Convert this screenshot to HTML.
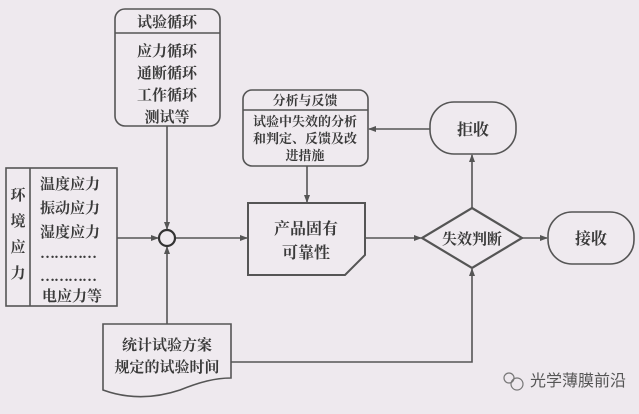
<!DOCTYPE html>
<html><head><meta charset="utf-8"><style>
html,body{margin:0;padding:0;background:#eee9ee}
svg{display:block}
text{font-family:"Liberation Serif","Noto Serif CJK SC","Noto Sans CJK SC",serif;fill:#3a3a3a;font-weight:bold}
</style></head><body>
<svg width="639" height="414" viewBox="0 0 639 414" xmlns="http://www.w3.org/2000/svg">
<defs><marker id="a" markerWidth="8" markerHeight="8" refX="7" refY="4" orient="auto" markerUnits="userSpaceOnUse"><path d="M0,1 L8,4 L0,7 Z" fill="#555"/></marker></defs>
<rect width="639" height="414" fill="#eee9ee"/>
<g stroke="#555" stroke-width="1.6" fill="#efeaef">
<rect x="115" y="9" width="105" height="117" rx="10"/>
<line x1="115" y1="33" x2="220" y2="33"/>
<rect x="6" y="168" width="111" height="138"/>
<line x1="30" y1="168" x2="30" y2="306"/>
<rect x="243" y="90" width="125" height="76" rx="9"/>
<line x1="243" y1="110" x2="368" y2="110"/>
<path d="M248,203 H365 V255 L345,275 H248 Z" stroke-width="2"/>
<rect x="430" y="102" width="86" height="52" rx="24"/>
<rect x="548" y="212" width="86" height="52" rx="24"/>
<path d="M472,208 L522,238 L472,268 L422,238 Z" stroke-width="2.2"/>
<path d="M103,324 H231 V378 C215,378 200,382 180,390 C150,400 125,398 103,390 Z"/>
</g>
<g stroke="#555" stroke-width="1.6" fill="none">
<line x1="167" y1="126" x2="167" y2="229" marker-end="url(#a)"/>
<line x1="117" y1="238" x2="158" y2="238" marker-end="url(#a)"/>
<line x1="167" y1="324" x2="167" y2="247" marker-end="url(#a)"/>
<line x1="176" y1="238" x2="247" y2="238" marker-end="url(#a)"/>
<line x1="307" y1="166" x2="307" y2="202" marker-end="url(#a)"/>
<line x1="365" y1="238" x2="421" y2="238" marker-end="url(#a)"/>
<line x1="522" y1="238" x2="547" y2="238" marker-end="url(#a)"/>
<line x1="472" y1="208" x2="472" y2="155" marker-end="url(#a)"/>
<line x1="430" y1="129" x2="369" y2="129" marker-end="url(#a)"/>
<polyline points="231,362 472,362 472,269" marker-end="url(#a)"/>
</g>
<circle cx="167" cy="238" r="8" fill="#efeaef" stroke="#333" stroke-width="2.2"/>
<g font-size="15" text-anchor="middle">
<text x="167" y="27">试验循环</text>
<text x="167" y="56">应力循环</text>
<text x="167" y="78">通断循环</text>
<text x="167" y="100">工作循环</text>
<text x="167" y="122">测试等</text>
</g>
<g font-size="15">
<text x="18" y="200" text-anchor="middle">环</text>
<text x="18" y="226" text-anchor="middle">境</text>
<text x="18" y="252" text-anchor="middle">应</text>
<text x="18" y="278" text-anchor="middle">力</text>
<text x="40" y="189">温度应力</text>
<text x="40" y="213">振动应力</text>
<text x="40" y="237">湿度应力</text>
<text x="40" y="258" letter-spacing="-1">…………</text>
<text x="40" y="281" letter-spacing="-1">…………</text>
<text x="42" y="301">电应力等</text>
</g>
<g font-size="13" text-anchor="middle">
<text x="305" y="105">分析与反馈</text>
<text x="305" y="126">试验中失效的分析</text>
<text x="305" y="143">和判定、反馈及改</text>
<text x="305" y="160">进措施</text>
</g>
<g font-size="16" text-anchor="middle">
<text x="306" y="234">产品固有</text>
<text x="306" y="258">可靠性</text>
<text x="473" y="135">拒收</text>
<text x="591" y="244">接收</text>
<text x="472" y="244" font-size="15">失效判断</text>
<text x="167" y="350" font-size="15">统计试验方案</text>
<text x="167" y="372" font-size="15">规定的试验时间</text>
</g>
<g>
<circle cx="509" cy="378" r="5" fill="none" stroke="#777" stroke-width="1.2"/>
<circle cx="517" cy="384" r="6" fill="none" stroke="#777" stroke-width="1.2"/>
<text x="530" y="386" font-size="16" style="font-weight:normal;fill:#555;font-family:'Liberation Sans','Noto Sans CJK SC',sans-serif">光学薄膜前沿</text>
</g>
</svg>
</body></html>
